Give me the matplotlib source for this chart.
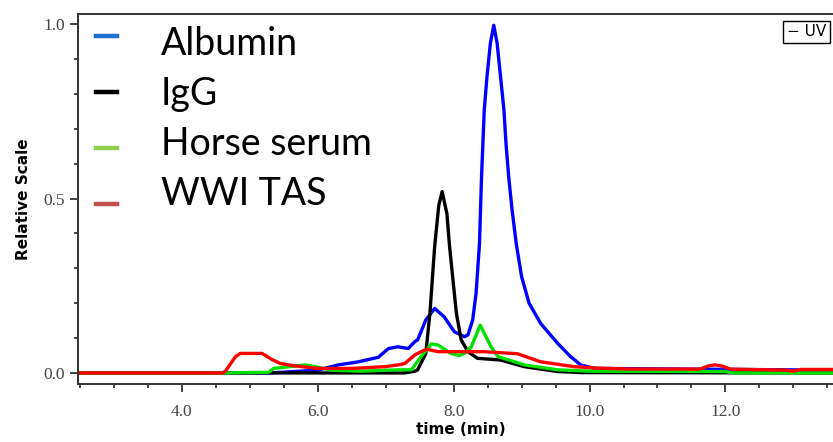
import numpy as np
import matplotlib
matplotlib.use('Agg')
import matplotlib.pyplot as plt
from matplotlib.ticker import MultipleLocator, FormatStrFormatter
from matplotlib.lines import Line2D

# 크로마토그램 데이터
albumin_t = [2.47, 5.3, 6.0, 6.3, 6.6, 6.89, 7.04, 7.18, 7.33, 7.43, 7.47, 7.59, 7.72, 7.86, 8.01, 8.16,
             8.21, 8.28, 8.33, 8.38, 8.41, 8.45, 8.49, 8.54, 8.59, 8.64, 8.69, 8.74, 8.77, 8.81, 8.86,
             8.92, 9.0, 9.11, 9.28, 9.53, 9.72, 9.87, 10.07, 13.6]
albumin_y = [0.0, 0.0, 0.008, 0.023, 0.032, 0.045, 0.07, 0.075, 0.07, 0.09, 0.095, 0.152, 0.185, 0.161, 0.118, 0.104,
             0.109, 0.152, 0.229, 0.372, 0.562, 0.754, 0.849, 0.945, 0.997, 0.945, 0.849, 0.754, 0.658, 0.562, 0.467,
             0.372, 0.276, 0.2, 0.142, 0.085, 0.047, 0.023, 0.013, 0.008]

igg_t = [2.47, 7.28, 7.43, 7.47, 7.59, 7.65, 7.72, 7.78, 7.83, 7.9, 7.94, 7.99, 8.04, 8.11, 8.21, 8.35,
         8.69, 9.04, 9.53, 9.9, 13.6]
igg_y = [0.0, 0.0, 0.005, 0.009, 0.056, 0.171, 0.362, 0.48, 0.52, 0.457, 0.362, 0.266, 0.171, 0.095, 0.061, 0.042,
         0.037, 0.018, 0.004, 0.001, 0.0]

horse_t = [2.47, 4.64, 5.28, 5.35, 5.81, 5.96, 6.2, 6.64, 7.18, 7.38, 7.52, 7.67, 7.77, 7.96, 8.08, 8.16,
           8.26, 8.39, 8.55, 8.65, 9.04, 9.53, 10.0, 12.0, 12.1, 13.6]
horse_y = [0.0, 0.0, 0.002, 0.013, 0.023, 0.018, 0.008, 0.005, 0.009, 0.009, 0.047, 0.083, 0.08, 0.056, 0.05, 0.056,
           0.075, 0.137, 0.075, 0.047, 0.023, 0.009, 0.005, 0.004, 0.0, 0.0]

tas_t = [2.47, 4.6, 4.64, 4.79, 4.86, 5.18, 5.32, 5.45, 5.67, 6.0, 6.5, 6.99, 7.18, 7.28, 7.43, 7.52,
         7.6, 7.77, 8.45, 8.94, 9.28, 9.77, 10.1, 10.6, 11.62, 11.75, 11.84, 11.95, 12.07, 12.9, 13.0,
         13.1, 13.6]
tas_y = [0.0, 0.0, 0.005, 0.047, 0.056, 0.056, 0.039, 0.027, 0.02, 0.013, 0.013, 0.018, 0.023, 0.027, 0.052, 0.061,
         0.068, 0.061, 0.061, 0.055, 0.032, 0.018, 0.014, 0.011, 0.011, 0.02, 0.023, 0.02, 0.011, 0.008, 0.005,
         0.01, 0.01]

legend_labels = ['Albumin', 'IgG', 'Horse serum', 'WWI TAS']
legend_colors = ['#1F6FD0', '#000000', '#8FD14F', '#C0504D']

fig = plt.figure(figsize=(8.33, 4.42), dpi=100)
ax = fig.add_axes([0.0936, 0.131, 0.92, 0.837])

lw = 2.4
ax.plot(albumin_t, albumin_y, color='#0000FF', lw=lw)
ax.plot(igg_t, igg_y, color='#000000', lw=lw)
ax.plot(horse_t, horse_y, color='#00E000', lw=lw)
ax.plot(tas_t, tas_y, color='#FF0000', lw=lw)

ax.set_xlim(2.47, 13.75)
ax.set_ylim(-0.032, 1.029)

ax.set_xticks([4.0, 6.0, 8.0, 10.0, 12.0])
ax.xaxis.set_minor_locator(MultipleLocator(0.5))
ax.yaxis.set_major_locator(MultipleLocator(0.5))
ax.yaxis.set_minor_locator(MultipleLocator(0.1))
ax.xaxis.set_major_formatter(FormatStrFormatter('%.1f'))
ax.yaxis.set_major_formatter(FormatStrFormatter('%.1f'))

for lab in ax.get_xticklabels() + ax.get_yticklabels():
    lab.set_fontfamily('Liberation Serif')
    lab.set_fontsize(12.5)
    lab.set_color('#444444')

ax.tick_params(axis='both', which='major', direction='out', length=6, width=1.2, color='#222222')
ax.tick_params(axis='both', which='minor', direction='out', length=3, width=1.2, color='#222222')
ax.tick_params(axis='x', which='major', pad=8)

for s in ['left', 'bottom', 'top']:
    ax.spines[s].set_linewidth(1.4)
    ax.spines[s].set_color('#333333')
ax.spines['right'].set_visible(False)

ax.set_xlabel('time (min)', fontsize=11, fontweight='bold', labelpad=2)
ax.set_ylabel('Relative Scale', fontsize=11, fontweight='bold', labelpad=9)

# 범례: 색 막대와 글자의 줄 간격이 서로 달라서 두 개로 나눔
leg_font = {'family': 'Lato', 'size': 27}
bar_handles = [Line2D([0], [0], color=c, lw=3.2) for c in legend_colors]
leg_bars = ax.legend(bar_handles, [' '] * 4, loc='upper left', bbox_to_anchor=(0.0, 1.032),
                     frameon=False, prop=leg_font, handlelength=0.56, handletextpad=1.17,
                     labelspacing=0.53, borderpad=0.48, borderaxespad=0.0)
ax.add_artist(leg_bars)

blank_handles = [Line2D([0], [0], color='none', lw=3.2) for _ in legend_labels]
ax.legend(blank_handles, legend_labels, loc='upper left', bbox_to_anchor=(0.0, 1.016),
          frameon=False, prop=leg_font, handlelength=0.56, handletextpad=1.17,
          labelspacing=0.37, borderpad=0.48, borderaxespad=0.0)

# UV 상자
fig.text(787 / 833, 1 - 32 / 442, '− UV', fontsize=11, va='center', ha='left',
         bbox=dict(boxstyle='square,pad=0.25', fc='white', ec='black', lw=1))

plt.savefig('out.png', dpi=100)
